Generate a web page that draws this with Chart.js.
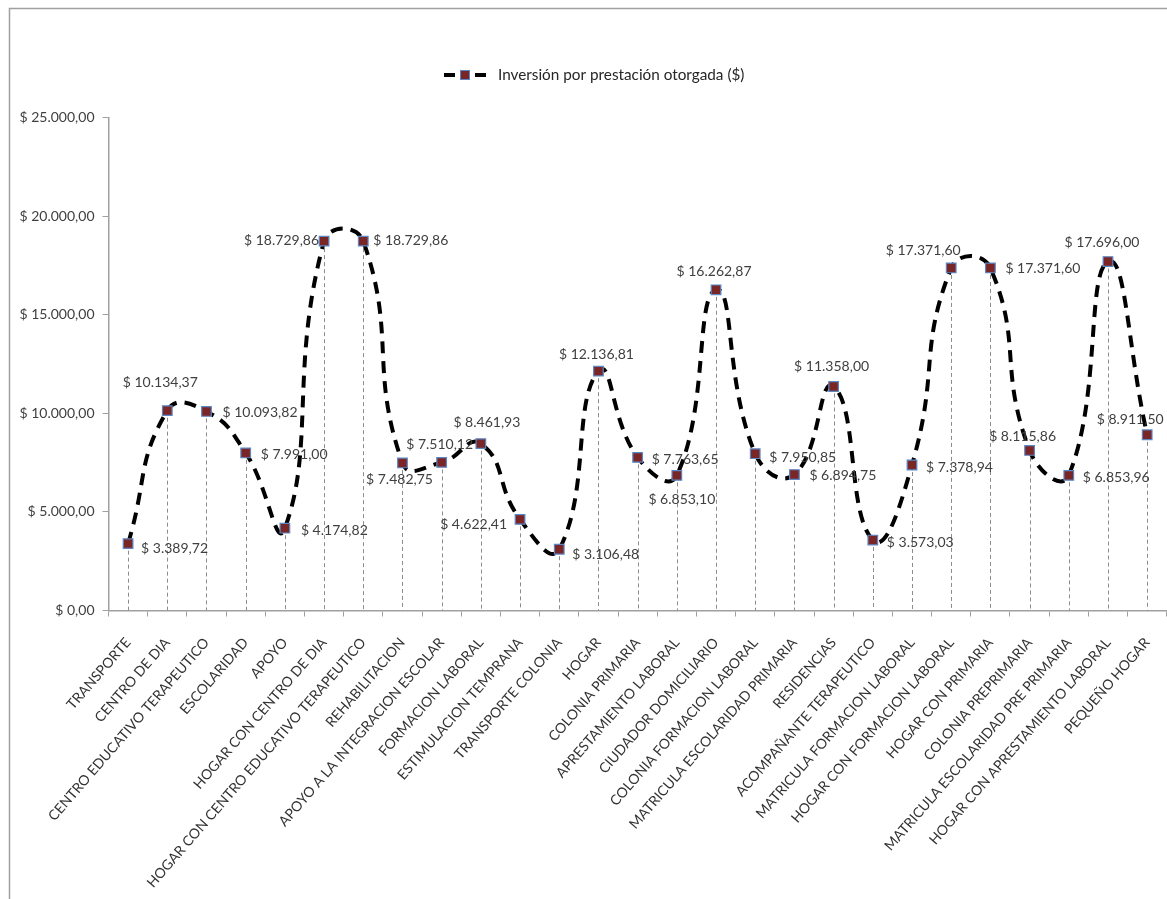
<!DOCTYPE html>
<html lang="es">
<head>
<meta charset="utf-8">
<title>Inversión por prestación otorgada</title>
<script src="https://cdn.jsdelivr.net/npm/chart.js@4/dist/chart.umd.min.js"></script>
<style>
  html, body { margin: 0; padding: 0; background: #ffffff; overflow: hidden; }
  #wrap { position: relative; width: 1167px; height: 899px; overflow: hidden; }
  canvas { display: block; }
</style>
</head>
<body>
<div id="wrap"><canvas id="chart" width="1178" height="899"></canvas></div>
<script>
// Prestaciones (categorías del eje X)
const categories = [
  'TRANSPORTE',
  'CENTRO DE DIA',
  'CENTRO EDUCATIVO TERAPEUTICO',
  'ESCOLARIDAD',
  'APOYO',
  'HOGAR CON CENTRO DE DIA',
  'HOGAR CON CENTRO EDUCATIVO TERAPEUTICO',
  'REHABILITACION',
  'APOYO A LA INTEGRACION ESCOLAR',
  'FORMACION LABORAL',
  'ESTIMULACION TEMPRANA',
  'TRANSPORTE COLONIA',
  'HOGAR',
  'COLONIA PRIMARIA',
  'APRESTAMIENTO LABORAL',
  'CIUDADOR DOMICILIARIO',
  'COLONIA FORMACION LABORAL',
  'MATRICULA ESCOLARIDAD PRIMARIA',
  'RESIDENCIAS',
  'ACOMPAÑANTE TERAPEUTICO',
  'MATRICULA FORMACION LABORAL',
  'HOGAR CON FORMACION LABORAL',
  'HOGAR CON PRIMARIA',
  'COLONIA PREPRIMARIA',
  'MATRICULA ESCOLARIDAD PRE PRIMARIA',
  'HOGAR CON APRESTAMIENTO LABORAL',
  'PEQUEÑO HOGAR'
];

// Inversión por prestación otorgada ($)
const investment = [
  3389.72, 10134.37, 10093.82, 7991.00, 4174.82, 18729.86, 18729.86,
  7482.75, 7510.12, 8461.93, 4622.41, 3106.48, 12136.81, 7763.65,
  6853.10, 16262.87, 7950.85, 6894.75, 11358.00, 3573.03, 7378.94,
  17371.60, 17371.60, 8115.86, 6853.96, 17696.00, 8911.50
];

const seriesName = 'Inversión por prestación otorgada ($)';

// Eje Y
const yMin = 0;
const yMax = 25000;
const yStep = 5000;

// Ubicación de cada etiqueta de valor: [alineación, dx, dy] respecto del punto
const labelPlacement = [
  ['left', 13, 5], ['center', -7, -28], ['left', 16, 1], ['left', 15, 2],
  ['left', 16, 2], ['right', -5, -1], ['left', 10, -1], ['center', -3, 17],
  ['center', -2, -18], ['center', 6, -21], ['right', -13, 5], ['left', 13, 5],
  ['center', -2, -17], ['left', 14, 2], ['center', 5, 24], ['center', -2, -18],
  ['left', 14, 4], ['left', 15, 1], ['center', -2, -20], ['left', 14, 2],
  ['left', 14, 2], ['center', -28, -17], ['left', 15, 1], ['center', -7, -14],
  ['left', 14, 2], ['center', -6, -19], ['center', -17, -15]
];

const FONT = 'Lato, "Open Sans", "DejaVu Sans", sans-serif';
const MARKER_FILL = '#7a2526';
const MARKER_EDGE = '#5b86c4';

// "$ 18.729,86"
function money(v) {
  const fixed = Math.abs(v).toFixed(2).split('.');
  const intPart = fixed[0].replace(/\B(?=(\d{3})+(?!\d))/g, '.');
  return '$ ' + intPart + ',' + fixed[1];
}

// Marco exterior del gráfico
const framePlugin = {
  id: 'frame',
  beforeDraw(chart) {
    const ctx = chart.ctx;
    ctx.save();
    ctx.strokeStyle = '#a0a0a0';
    ctx.lineWidth = 1.5;
    ctx.strokeRect(9.5, 8.5, chart.width + 20, chart.height + 20);
    ctx.restore();
  }
};

// Líneas de proyección verticales desde cada punto al eje X
const dropLinePlugin = {
  id: 'dropLines',
  beforeDatasetsDraw(chart) {
    const ctx = chart.ctx;
    const meta = chart.getDatasetMeta(0);
    const bottom = chart.chartArea.bottom;
    ctx.save();
    ctx.strokeStyle = '#8c8c8c';
    ctx.lineWidth = 1;
    ctx.setLineDash([4, 3]);
    meta.data.forEach(pt => {
      const x = Math.round(pt.x) + 0.5;
      ctx.beginPath();
      ctx.moveTo(x, pt.y);
      ctx.lineTo(x, bottom);
      ctx.stroke();
    });
    ctx.restore();
  }
};

// Etiquetas con el valor de cada punto
const valueLabelPlugin = {
  id: 'valueLabels',
  afterDatasetsDraw(chart) {
    const ctx = chart.ctx;
    const meta = chart.getDatasetMeta(0);
    const values = chart.data.datasets[0].data;
    ctx.save();
    ctx.font = '14px ' + FONT;
    ctx.fillStyle = '#404040';
    ctx.textBaseline = 'middle';
    meta.data.forEach((pt, i) => {
      const [align, dx, dy] = labelPlacement[i];
      ctx.textAlign = align;
      ctx.fillText(money(values[i]), pt.x + dx, pt.y + dy);
    });
    ctx.restore();
  }
};

// Leyenda: trazo discontinuo con marcador y nombre de la serie
const legendPlugin = {
  id: 'seriesLegend',
  afterDraw(chart) {
    const ctx = chart.ctx;
    const cx = 465, cy = 75;
    ctx.save();
    ctx.strokeStyle = '#000000';
    ctx.lineWidth = 4;
    ctx.beginPath();
    ctx.moveTo(cx - 21, cy); ctx.lineTo(cx - 10, cy);
    ctx.moveTo(cx + 10, cy); ctx.lineTo(cx + 21, cy);
    ctx.stroke();
    ctx.fillStyle = MARKER_FILL;
    ctx.strokeStyle = MARKER_EDGE;
    ctx.lineWidth = 1;
    ctx.fillRect(cx - 4.5, cy - 4.5, 9, 9);
    ctx.strokeRect(cx - 4.5, cy - 4.5, 9, 9);
    ctx.fillStyle = '#262626';
    ctx.font = '15.3px ' + FONT;
    ctx.textAlign = 'left';
    ctx.textBaseline = 'middle';
    ctx.fillText(chart.data.datasets[0].label, cx + 33, cy);
    ctx.restore();
  }
};

new Chart(document.getElementById('chart'), {
  type: 'line',
  data: {
    labels: categories,
    datasets: [{
      label: seriesName,
      data: investment,
      borderColor: '#000000',
      borderWidth: 4,
      borderDash: [12, 8],
      borderCapStyle: 'butt',
      tension: 0.5,
      fill: false,
      pointStyle: 'rect',
      pointRadius: 6.8,
      pointHoverRadius: 6.8,
      pointBackgroundColor: MARKER_FILL,
      pointBorderColor: MARKER_EDGE,
      pointBorderWidth: 1.2,
      clip: false
    }]
  },
  options: {
    responsive: false,
    devicePixelRatio: 1,
    animation: false,
    events: [],
    layout: { padding: { top: 117.5, right: 0, left: 0, bottom: 0 } },
    elements: { line: { capBezierPoints: false } },
    plugins: {
      legend: { display: false },
      title: { display: false },
      tooltip: { enabled: false }
    },
    scales: {
      x: {
        type: 'category',
        offset: true,
        grid: {
          offset: true,
          drawOnChartArea: false,
          drawTicks: true,
          tickLength: 6,
          color: '#a0a0a0'
        },
        border: { display: true, color: '#a0a0a0', width: 1.5 },
        ticks: {
          autoSkip: false,
          minRotation: 49,
          maxRotation: 49,
          padding: 18,
          color: '#333333',
          font: { family: FONT, size: 14 }
        },
        afterFit(scale) { scale.height = 288.5; }
      },
      y: {
        min: yMin,
        max: yMax,
        grid: {
          drawOnChartArea: false,
          drawTicks: true,
          tickLength: 6,
          color: '#a0a0a0'
        },
        border: { display: true, color: '#a0a0a0', width: 1.5 },
        ticks: {
          stepSize: yStep,
          padding: 8,
          color: '#404040',
          font: { family: FONT, size: 14 },
          callback: v => money(v)
        },
        afterFit(scale) { scale.width = 108.5; }
      }
    }
  },
  plugins: [framePlugin, dropLinePlugin, valueLabelPlugin, legendPlugin]
});
</script>
</body>
</html>
